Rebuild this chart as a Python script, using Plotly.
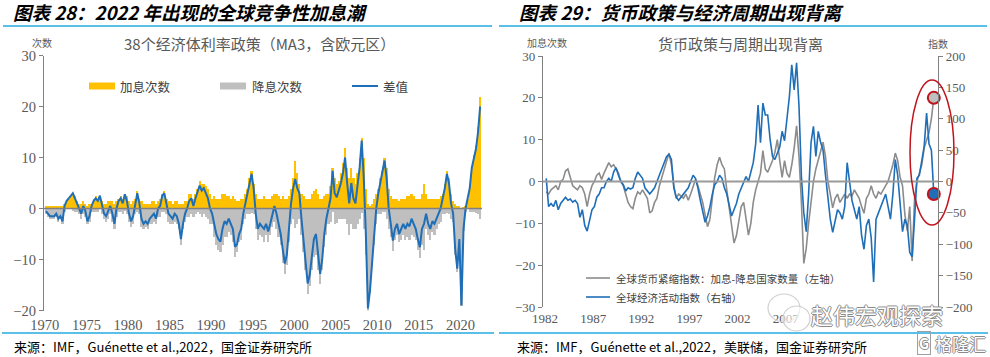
import plotly.graph_objects as go

W, H = 990, 357

# ---------------- data (quarterly) ----------------
# Left chart: 38 economies, MA3 — net change (差值) and number of hikes (加息次数)
net_change = [
    -0.5, -1.0, -1.5, -1.5,   # 1970
    -1.5, -1.0, -2.0, -1.5,   # 1971
    -2.5, 0.5, 1.5, 2.0,      # 1972
    2.5, 3.0, 2.0, 1.0,       # 1973
    0.0, -1.0, 0.5, -0.5,     # 1974
    -2.5, -1.5, 0.5, 1.5,     # 1975
    2.0, 1.5, 2.5, 0.5,       # 1976
    -1.0, -1.5, -0.5, 0.5,    # 1977
    -1.0, -3.0, 0.0, 1.5,     # 1978
    2.0, 1.0, 2.8, 1.5,       # 1979
    -1.0, -2.5, -1.5, 1.0,    # 1980
    3.0, 1.0, -2.0, -3.0,     # 1981
    -2.5, -3.0, -2.0, -1.5,   # 1982
    -1.0, -2.0, 0.0, 0.5,     # 1983
    2.5, 3.0, 1.0, -1.0,      # 1984
    -1.5, -2.0, -1.0, -1.5,   # 1985
    -3.0, -6.0, -3.0, -1.0,   # 1986
    0.0, 1.5, 2.0, 0.5,       # 1987
    2.0, 3.5, 4.5, 3.5,       # 1988
    4.0, 3.0, 2.0, 0.0,       # 1989
    -1.0, -3.0, -5.0, -6.0,   # 1990
    -6.5, -4.0, -2.5, -3.0,   # 1991
    -2.0, -3.0, -4.0, -7.5,   # 1992
    -7.0, -5.0, -4.0, -1.0,   # 1993
    1.0, 3.0, 5.0, 6.8,       # 1994
    4.0, -1.0, -4.0, -3.0,    # 1995
    -3.5, -4.0, -3.0, -4.5,   # 1996
    -3.0, -1.0, 0.5, -1.0,    # 1997
    -3.0, -5.0, -8.0, -10.8,  # 1998
    -9.0, -4.0, 1.0, 4.0,     # 1999
    5.8, 4.0, 3.0, -2.0,      # 2000
    -6.0, -10.0, -14.7, -13.0,  # 2001
    -9.0, -6.0, -5.0, -9.0,   # 2002
    -12.8, -10.0, -5.0, -2.0,  # 2003
    0.0, 2.0, 7.4, 3.0,       # 2004
    2.2, 3.5, 5.0, 7.0,       # 2005
    10.0, 5.0, 1.0, 5.0,      # 2006
    2.0, 1.0, 4.0, 8.0,       # 2007
    13.3, 6.0, -5.0, -19.6,   # 2008
    -16.0, -10.0, -5.0, 0.0,  # 2009
    3.0, 5.0, 7.0, 9.4,       # 2010
    6.0, 0.0, -3.0, -6.3,     # 2011
    -4.0, -3.0, -5.0, -4.0,   # 2012
    -3.0, -4.0, -3.0, -3.5,   # 2013
    -2.0, -3.0, -4.0, -6.0,   # 2014
    -7.6, -4.0, -3.0, -1.0,   # 2015
    -3.0, -4.0, -2.5, -3.0,   # 2016
    -2.0, -1.0, 0.0, 2.0,     # 2017
    4.0, 6.8, 5.0, 1.0,       # 2018
    -1.0, -8.0, -11.8, -6.0,  # 2019
    -19.0, -4.0, 0.0, 2.0,    # 2020
    4.0, 8.0, 10.0, 11.7,     # 2021
    15.0, 20.0,               # 2022
]
rate_hikes = [
    0.5, 0.5, 0.5, 0.5,   # 1970
    0.5, 0.5, 0.5, 0.5,   # 1971
    0.5, 1.0, 1.5, 2.0,   # 1972
    2.5, 3.2, 2.5, 1.5,   # 1973
    1.0, 1.0, 1.5, 1.0,   # 1974
    0.5, 1.0, 1.0, 2.0,   # 1975
    2.5, 2.0, 2.5, 1.5,   # 1976
    1.0, 1.0, 1.5, 1.5,   # 1977
    1.5, 1.0, 1.5, 2.0,   # 1978
    2.5, 2.0, 3.0, 2.5,   # 1979
    1.5, 1.0, 1.5, 2.0,   # 1980
    3.5, 2.0, 1.5, 1.0,   # 1981
    1.0, 1.0, 1.0, 1.5,   # 1982
    1.5, 1.0, 1.5, 2.0,   # 1983
    3.0, 3.5, 2.0, 1.5,   # 1984
    1.5, 1.0, 1.5, 1.5,   # 1985
    1.0, 1.0, 1.0, 1.5,   # 1986
    1.5, 3.0, 3.0, 2.0,   # 1987
    3.0, 4.0, 5.5, 5.0,   # 1988
    5.0, 4.5, 4.0, 3.0,   # 1989
    2.0, 2.5, 2.0, 2.0,   # 1990
    2.0, 3.0, 3.0, 2.5,   # 1991
    2.5, 2.0, 2.5, 2.0,   # 1992
    1.5, 1.5, 2.0, 2.0,   # 1993
    3.0, 4.0, 6.0, 7.5,   # 1994
    5.0, 3.0, 2.0, 2.0,   # 1995
    2.0, 2.5, 2.0, 2.0,   # 1996
    2.0, 2.5, 3.0, 3.0,   # 1997
    2.5, 2.0, 2.5, 2.0,   # 1998
    2.0, 2.5, 4.0, 6.0,   # 1999
    9.5, 7.0, 5.0, 3.0,   # 2000
    2.5, 2.0, 2.0, 2.0,   # 2001
    3.0, 3.5, 4.0, 3.0,   # 2002
    2.0, 2.0, 2.5, 3.0,   # 2003
    3.0, 4.5, 8.0, 6.0,   # 2004
    5.0, 5.5, 7.0, 9.0,   # 2005
    12.0, 8.0, 6.0, 8.0,  # 2006
    6.0, 5.0, 7.0, 10.0,  # 2007
    14.0, 10.0, 4.0, 1.0,  # 2008
    0.5, 1.0, 2.0, 3.0,   # 2009
    4.0, 6.0, 7.5, 10.0,  # 2010
    8.0, 4.0, 2.5, 2.0,   # 2011
    2.0, 2.0, 1.5, 2.0,   # 2012
    2.0, 2.0, 2.5, 2.5,   # 2013
    3.0, 2.5, 2.0, 2.0,   # 2014
    2.0, 3.0, 5.0, 3.0,   # 2015
    2.0, 2.0, 2.0, 2.0,   # 2016
    2.0, 2.0, 2.5, 3.0,   # 2017
    5.0, 7.5, 6.0, 3.0,   # 2018
    1.5, 1.0, 0.5, 0.5,   # 2019
    0.0, 0.3, 0.5, 2.0,   # 2020
    4.5, 8.5, 10.5, 12.5,  # 2021
    16.0, 22.0,           # 2022
]
# Right chart: global economic activity index (right axis), from 1982
activity_index = [
    5, -40, -35, -40,      # 1982
    -30, -45, -35, -30,    # 1983
    -25, -30, -28, -33,    # 1984
    -30, -35, -57, -45,    # 1985
    -70, -79, -60, -45,    # 1986
    -40, -25, -20, -10,    # 1987
    -10, 0, 5, 0,          # 1988
    15, 22, 10, 0,         # 1989
    -5, -15, -10, -12,     # 1990
    -10, 5, 15, 10,        # 1991
    5, -10, -15, -20,      # 1992
    -15, -10, 0, 10,       # 1993
    20, 30, 40, 43,        # 1994
    35, -10, -25, -30,     # 1995
    -25, -20, -15, -10,    # 1996
    0, 10, 5, -10,         # 1997
    -30, -50, -65, -55,    # 1998
    -40, -20, -5, 0,       # 1999
    10, 5, -10, -20,       # 2000
    -40, -55, -45, -35,    # 2001
    -20, -10, 0, 8,        # 2002
    0, 15, 30, 60,         # 2003
    122, 62, 125, 106,     # 2004
    106, 67, 40, 35,       # 2005
    45, 55, 80, 65,        # 2006
    100, 135, 186, 146,    # 2007
    189, 120, 8, -50,      # 2008
    -80, -20, 62, 88,      # 2009
    40, 80, 62, 50,        # 2010
    10, -30, -60, -81,     # 2011
    -62, -45, -50, -60,    # 2012
    -40, 30, 0, -30,       # 2013
    -45, -60, -40, -86,    # 2014
    -108, -70, -60, -90,   # 2015
    -160, -60, -50, -40,   # 2016
    -30, -20, -40, -60,    # 2017
    -20, 35, 10, -40,      # 2018
    -80, -60, -70, -113,   # 2019
    -120, -60, 5, 10,      # 2020
    30, 56, 109, 60,       # 2021
    50, -20,               # 2022
]
left_year_ticks = [1970, 1975, 1980, 1985, 1990, 1995, 2000, 2005, 2010, 2015, 2020]
right_year_ticks = [1982, 1987, 1992, 1997, 2002, 2007]   # later labels are hidden under the watermark
left_y_ticks = [-20, -10, 0, 10, 20, 30]
right_left_ticks = [-30, -20, -10, 0, 10, 20, 30]
right_right_ticks = [-200, -150, -100, -50, 0, 50, 100, 150, 200]

assert len(net_change) == len(rate_hikes) == 210
assert len(activity_index) == 162

# derived
quarter_x = [1970 + 0.25 * i + 0.125 for i in range(len(net_change))]
rate_cuts = [round(n - h, 2) for n, h in zip(net_change, rate_hikes)]
i82 = (1982 - 1970) * 4
x82 = quarter_x[i82:]
tightening = net_change[i82:]

# ---------------- styles ----------------
YELLOW = "#FFC000"
LGREY = "#BFBFBF"
BLUE = "#1F6EB8"
DGREY = "#8C8C8C"
AX = "#808080"
TXT = "#595959"
SEP = "#5BC0E8"
CJK = "Noto Sans CJK SC"
NUM = "Liberation Serif"


def px(x):
    return x / W


def py(y):
    return 1 - y / H


fig = go.Figure()

# Left chart
fig.add_trace(go.Bar(x=quarter_x, y=rate_hikes, width=0.27, marker=dict(color=YELLOW, line=dict(width=0)),
                     xaxis="x", yaxis="y", name="加息次数"))
fig.add_trace(go.Bar(x=quarter_x, y=rate_cuts, width=0.27, marker=dict(color=LGREY, line=dict(width=0)),
                     xaxis="x", yaxis="y", name="降息次数"))
fig.add_trace(go.Scatter(x=quarter_x, y=net_change, mode="lines", line=dict(color=BLUE, width=2),
                         xaxis="x", yaxis="y", name="差值"))

# Right chart
fig.add_trace(go.Scatter(x=x82, y=tightening, mode="lines", line=dict(color=DGREY, width=1.6),
                         xaxis="x2", yaxis="y2", name="全球货币紧缩指数"))
fig.add_trace(go.Scatter(x=x82, y=activity_index, mode="lines", line=dict(color=BLUE, width=1.6),
                         xaxis="x2", yaxis="y3", name="全球经济活动指数"))
fig.add_trace(go.Scatter(x=[x82[-1]], y=[tightening[-1]], mode="markers",
                         marker=dict(size=12, color="#BFBFBF", line=dict(color="#C0141E", width=2)),
                         xaxis="x2", yaxis="y2", cliponaxis=False))
fig.add_trace(go.Scatter(x=[x82[-1]], y=[activity_index[-1]], mode="markers",
                         marker=dict(size=12, color="#1F6EB8", line=dict(color="#C0141E", width=2)),
                         xaxis="x2", yaxis="y3", cliponaxis=False))

tickfont_l = dict(family=NUM, size=14.5, color=TXT)
tickfont_r = dict(family=NUM, size=13, color=TXT)

fig.update_layout(
    width=W, height=H, autosize=False,
    margin=dict(l=0, r=0, t=0, b=0, pad=0),
    paper_bgcolor="white", plot_bgcolor="rgba(0,0,0,0)",
    showlegend=False, barmode="overlay", bargap=0,
    xaxis=dict(domain=[px(44), px(482)], range=[1969.9, 2022.6], anchor="y", automargin=False,
               tickmode="array", tickvals=left_year_ticks, ticktext=[str(v) for v in left_year_ticks],
               showline=False, ticks="", showgrid=False, zeroline=False, tickfont=tickfont_l,
               ticklabelstandoff=4),
    yaxis=dict(domain=[py(310.5), py(55.5)], range=[-20, 30], anchor="x", automargin=False,
               tickmode="array", tickvals=left_y_ticks, showline=True, linecolor=AX, linewidth=1.3,
               ticks="outside", ticklen=4, tickcolor=AX, showgrid=False, zeroline=False,
               tickfont=tickfont_l),
    xaxis2=dict(domain=[px(543), px(938)], range=[1981.79, 2022.81], anchor="y2", automargin=False,
                tickmode="array", tickvals=right_year_ticks, ticktext=[str(v) for v in right_year_ticks],
                showline=False, ticks="", showgrid=False, zeroline=False, tickfont=tickfont_r,
                ticklabelstandoff=2),
    yaxis2=dict(domain=[py(307), py(56)], range=[-30, 30], anchor="x2", automargin=False,
                tickmode="array", tickvals=right_left_ticks, showline=True, linecolor=AX, linewidth=1.3,
                ticks="outside", ticklen=4, tickcolor=AX, showgrid=False, zeroline=False,
                tickfont=tickfont_r),
    yaxis3=dict(range=[-200, 200], overlaying="y2", side="right", anchor="x2", automargin=False,
                tickmode="array", tickvals=right_right_ticks, showline=True, linecolor=AX, linewidth=1.3,
                ticks="outside", ticklen=4, tickcolor=AX, showgrid=False, zeroline=False,
                tickfont=tickfont_r),
)

shapes = []
# zero reference lines
shapes.append(dict(type="line", xref="paper", yref="y", x0=px(44), x1=px(482), y0=0, y1=0,
                   line=dict(color=AX, width=1.5), layer="above"))
shapes.append(dict(type="line", xref="paper", yref="y2", x0=px(543), x1=px(938), y0=0, y1=0,
                   line=dict(color="#9A9A9A", width=1.8), layer="above"))
# separators
for x0, x1, y in [(3, 492, 26), (499, 987, 26), (2, 494, 333), (499, 988, 333)]:
    shapes.append(dict(type="line", xref="paper", yref="paper", x0=px(x0), x1=px(x1), y0=py(y), y1=py(y),
                       line=dict(color=SEP, width=2)))
# left legend swatches
shapes.append(dict(type="line", xref="paper", yref="paper", x0=px(89), x1=px(115), y0=py(86), y1=py(86),
                   line=dict(color=YELLOW, width=7)))
shapes.append(dict(type="line", xref="paper", yref="paper", x0=px(220), x1=px(246), y0=py(86), y1=py(86),
                   line=dict(color=LGREY, width=7)))
shapes.append(dict(type="line", xref="paper", yref="paper", x0=px(352), x1=px(378), y0=py(86), y1=py(86),
                   line=dict(color=BLUE, width=2)))
# right legend swatches
shapes.append(dict(type="line", xref="paper", yref="paper", x0=px(586), x1=px(610), y0=py(278), y1=py(278),
                   line=dict(color=DGREY, width=1.6)))
shapes.append(dict(type="line", xref="paper", yref="paper", x0=px(586), x1=px(610), y0=py(297), y1=py(297),
                   line=dict(color=BLUE, width=1.6)))
# red highlight ellipse
shapes.append(dict(type="circle", xref="paper", yref="paper", x0=px(910), x1=px(954), y0=py(225), y1=py(80),
                   line=dict(color="#C0141E", width=1.5), layer="above"))
# watermark icon (light)
shapes.append(dict(type="circle", xref="paper", yref="paper", x0=px(768), x1=px(800), y0=py(322), y1=py(294),
                   line=dict(color="#CFCFCF", width=1.2), layer="above"))
shapes.append(dict(type="circle", xref="paper", yref="paper", x0=px(783), x1=px(810), y0=py(331), y1=py(306),
                   line=dict(color="#CFCFCF", width=1.2), fillcolor="rgba(255,255,255,0.6)", layer="above"))
fig.update_layout(shapes=shapes)

OUTLINE = "1px 0 0 #8A8A8A, -1px 0 0 #8A8A8A, 0 1px 0 #8A8A8A, 0 -1px 0 #8A8A8A"


def ann(text, x, y, size, color=TXT, xanchor="left", family=CJK, **kw):
    font = dict(family=family, size=size, color=color)
    font.update(kw.pop("font_extra", {}))
    d = dict(text=text, xref="paper", yref="paper", x=px(x), y=py(y), xanchor=xanchor, yanchor="middle",
             showarrow=False, font=font)
    d.update(kw)
    return d


annotations = [
    ann("图表 28：2022 年出现的全球竞争性加息潮", 11, 12.5, 18.5, color="#000000",
        font_extra=dict(weight="bold", style="italic")),
    ann("图表 29：货币政策与经济周期出现背离", 517, 12.5, 18.5, color="#000000",
        font_extra=dict(weight="bold", style="italic")),
    ann("38个经济体利率政策（MA3，含欧元区）", 259, 43, 15, xanchor="center"),
    ann("货币政策与周期出现背离", 740, 43, 15, xanchor="center"),
    ann("次数", 42, 42, 10, xanchor="center"),
    ann("加息次数", 547, 42.5, 10, xanchor="center"),
    ann("指数", 938, 43, 10, xanchor="center"),
    ann("加息次数", 118, 86, 12.5, color="#404040"),
    ann("降息次数", 250, 86, 12.5, color="#404040"),
    ann("差值", 381, 86, 12.5, color="#404040"),
    ann("全球货币紧缩指数：加息-降息国家数量（左轴）", 614, 278, 10.5, color="#404040"),
    ann("全球经济活动指数（右轴）", 614, 297, 10.5, color="#404040"),
    ann("来源：IMF，Guénette et al.,2022，国金证券研究所", 12, 346, 13, color="#000000"),
    ann("来源：IMF，Guénette et al.,2022，美联储，国金证券研究所", 515, 346, 13, color="#000000"),
    ann("赵伟宏观探索", 877, 314, 22, color="#FFFFFF", xanchor="center",
        font_extra=dict(shadow=OUTLINE)),
    ann("G", 924, 343, 14, color="#FFFFFF", xanchor="center", bordercolor="#A0A0A0", borderwidth=1,
        borderpad=1, font_extra=dict(shadow=OUTLINE, weight="bold")),
    ann("格隆汇", 960, 343, 17, color="#FFFFFF", xanchor="center", font_extra=dict(shadow=OUTLINE)),
]
fig.update_layout(annotations=annotations)

# remove the browser's default page margin so the figure sits at the window's top-left corner
fig.write_html("out.html", config={"displayModeBar": False},
               post_script="document.body.style.margin='0px'; document.body.style.padding='0px';")
